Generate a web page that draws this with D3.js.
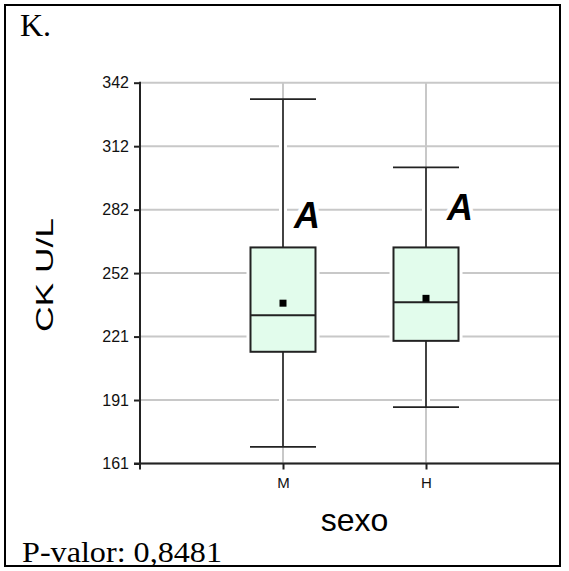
<!DOCTYPE html>
<html><head><meta charset="utf-8">
<script src="https://cdn.jsdelivr.net/npm/d3@7/dist/d3.min.js"></script>
<style>body{margin:0;background:#fff}svg{display:block}</style>
</head><body>
<script>
const categories = ["M", "H"];
const whiskerLow = [168.9, 187.8];
const q1 = [214.1, 219.3];
const median = [231.5, 237.6];
const q3 = [263.7, 263.7];
const whiskerHigh = [334.2, 301.8];
const means = [237.2, 239.5];
const letters = ["A", "A"];
const yTickValues = [161, 191.17, 221.33, 251.5, 281.67, 311.83, 342];
const yTickLabels = ["161", "191", "221", "252", "282", "312", "342"];

(function () {
const W = 569, H = 571;
const svg = d3.select("body").append("svg").attr("width", W).attr("height", H);
svg.append("rect").attr("width", W).attr("height", H).attr("fill", "#fff");

const y = d3.scaleLinear().domain([161, 342]).range([463.5, 82.7]);
const x = d3.scalePoint().domain(categories).range([140, 569]).padding(1);
const pLeft = 140, pRight = 559, pTop = y(342), pBottom = y(161);

// gridlines
const grid = svg.append("g").attr("stroke", "#c8c8c8").attr("stroke-width", 2);
yTickValues.forEach(v => grid.append("line").attr("x1", pLeft).attr("x2", pRight).attr("y1", y(v)).attr("y2", y(v)));
categories.forEach(c => grid.append("line").attr("x1", x(c)).attr("x2", x(c)).attr("y1", pTop).attr("y2", pBottom));

// boxes
const boxW = 65, capW = 66;
const data = categories.map((c, i) => ({c, lo: whiskerLow[i], q1: q1[i], med: median[i], q3: q3[i], hi: whiskerHigh[i], mean: means[i], letter: letters[i]}));
const g = svg.append("g");
data.forEach(d => {
  const cx = x(d.c);
  [[cx, y(d.hi), cx, y(d.q3)], [cx, y(d.q1), cx, y(d.lo)]].forEach(l =>
    g.append("line").attr("x1", l[0]).attr("y1", l[1]).attr("x2", l[2]).attr("y2", l[3]).attr("stroke", "#fff").attr("stroke-width", 8));
  g.append("rect").attr("x", cx - boxW / 2).attr("y", y(d.q3)).attr("width", boxW).attr("height", y(d.q1) - y(d.q3))
    .attr("fill", "#fff").attr("stroke", "#fff").attr("stroke-width", 8);
  const wl = (x1, y1, x2, y2) => g.append("line").attr("x1", x1).attr("y1", y1).attr("x2", x2).attr("y2", y2).attr("stroke", "#222").attr("stroke-width", 1.7);
  wl(cx, y(d.hi), cx, y(d.q3));
  wl(cx, y(d.q1), cx, y(d.lo));
  wl(cx - capW / 2, y(d.hi), cx + capW / 2, y(d.hi));
  wl(cx - capW / 2, y(d.lo), cx + capW / 2, y(d.lo));
  g.append("rect").attr("x", cx - boxW / 2).attr("y", y(d.q3)).attr("width", boxW).attr("height", y(d.q1) - y(d.q3))
    .attr("fill", "#e2fcec").attr("stroke", "#222").attr("stroke-width", 2);
  wl(cx - boxW / 2, y(d.med), cx + boxW / 2, y(d.med)).attr("stroke-width", 2);
  g.append("rect").attr("x", cx - 3.5).attr("y", y(d.mean) - 3.5).attr("width", 7).attr("height", 7).attr("fill", "#000");
});

// letters
const letterDX = [11, 21];
const letterVal = [272.9, 276.7];
data.forEach((d, i) => {
  svg.append("text").attr("x", x(d.c) + letterDX[i]).attr("y", y(letterVal[i]))
    .attr("font-family", "Liberation Sans, Arial, sans-serif").attr("font-weight", "bold").attr("font-style", "italic")
    .attr("font-size", 36).attr("fill", "#000").attr("stroke", "#fff").attr("stroke-width", 8)
    .attr("paint-order", "stroke").attr("stroke-linejoin", "round").text(d.letter);
});

// axes
const yAxis = d3.axisLeft(y).tickValues(yTickValues).tickFormat((d, i) => yTickLabels[i]).tickSize(6).tickPadding(5);
const ya = svg.append("g").attr("transform", `translate(${pLeft},0)`).call(yAxis);
ya.select(".domain").remove();
ya.selectAll(".tick line").attr("stroke", "#222").attr("stroke-width", 2);
ya.selectAll(".tick text").attr("font-family", "Liberation Sans, Arial, sans-serif").attr("font-size", 16).attr("fill", "#111");
svg.append("line").attr("x1", pLeft).attr("x2", pLeft).attr("y1", pTop - 1).attr("y2", pBottom + 6).attr("stroke", "#222").attr("stroke-width", 2);

const xAxis = d3.axisBottom(x).tickSize(6).tickPadding(8);
const xa = svg.append("g").attr("transform", `translate(0,${pBottom})`).call(xAxis);
xa.select(".domain").remove();
xa.selectAll(".tick line").attr("stroke", "#222").attr("stroke-width", 2);
xa.selectAll(".tick text").attr("font-family", "Liberation Sans, Arial, sans-serif").attr("font-size", 15).attr("fill", "#111");
svg.append("line").attr("x1", pLeft - 6).attr("x2", pRight).attr("y1", pBottom).attr("y2", pBottom).attr("stroke", "#222").attr("stroke-width", 2);

// axis titles
svg.append("text").attr("transform", `translate(53,275) rotate(-90)`).attr("text-anchor", "middle")
  .attr("font-family", "Liberation Sans, Arial, sans-serif").attr("font-size", 24)
  .attr("textLength", 114).attr("lengthAdjust", "spacingAndGlyphs").text("CK  U/L");
svg.append("text").attr("x", (140 + 569) / 2).attr("y", 531).attr("text-anchor", "middle")
  .attr("font-family", "Liberation Sans, Arial, sans-serif").attr("font-size", 32).text("sexo");

// panel label & p-value
svg.append("text").attr("x", 20).attr("y", 36).attr("font-family", "Liberation Serif, Times New Roman, serif").attr("font-size", 32).text("K.");
svg.append("text").attr("x", 22).attr("y", 562).attr("font-family", "Liberation Serif, Times New Roman, serif").attr("font-size", 30)
  .attr("textLength", 200).attr("lengthAdjust", "spacingAndGlyphs").text("P-valor: 0,8481");

// frame
svg.append("rect").attr("x", 5).attr("y", 5).attr("width", 555).attr("height", 561).attr("fill", "none").attr("stroke", "#000").attr("stroke-width", 2);
})();
</script>
</body></html>
